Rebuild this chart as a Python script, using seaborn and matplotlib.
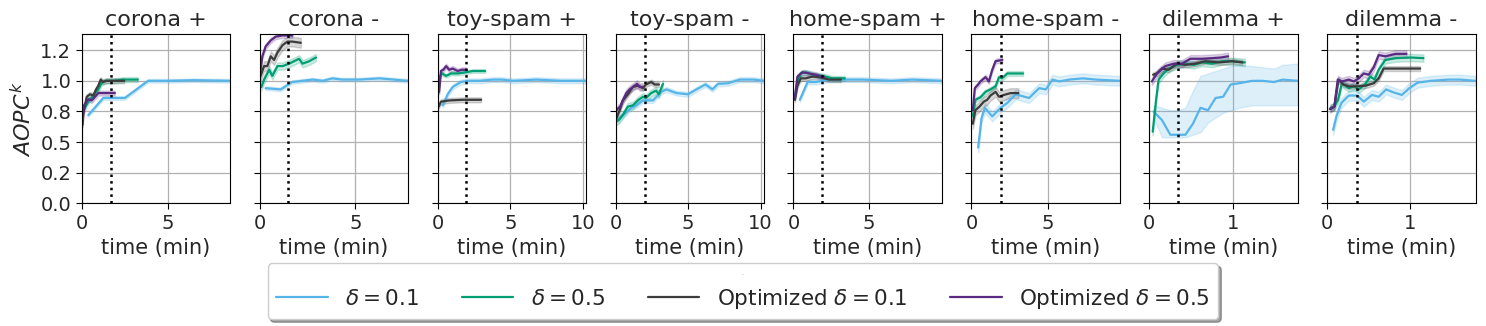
import numpy as np
import pandas as pd
import matplotlib
matplotlib.use('Agg')
import matplotlib.pyplot as plt
from matplotlib.ticker import MaxNLocator, FormatStrFormatter
import seaborn as sns

# panel titles and the dotted reference time of each panel
titles = ['corona +', 'corona -', 'toy-spam +', 'toy-spam -',
          'home-spam +', 'home-spam -', 'dilemma +', 'dilemma -']
vline_x = [1.7, 1.5, 1.98, 2.0, 1.87, 1.93, 0.347, 0.358]

methods = ['$\\delta = 0.1$', '$\\delta = 0.5$',
           'Optimized $\\delta = 0.1$', 'Optimized $\\delta = 0.5$']
colors = ['#56B4E9', '#009E73', '#3C3C3C', '#5A2A82']

# corona +
cp_d01_t = [0.38, 1.25, 2.5, 3.85, 5.0, 6.5, 8.6]
cp_d01_y = [0.72, 0.86, 0.86, 1.0, 1.0, 1.005, 1.0]
cp_d05_t = [0.1, 0.38, 0.67, 0.96, 1.15, 1.35, 1.83, 2.4, 3.25]
cp_d05_y = [0.76, 0.83, 0.88, 0.93, 0.98, 1.0, 1.0, 1.01, 1.01]
cp_o01_t = [0.1, 0.29, 0.48, 0.67, 0.83, 0.96, 1.1, 1.25, 1.44, 2.46]
cp_o01_y = [0.74, 0.87, 0.89, 0.88, 0.93, 0.96, 1.01, 0.99, 1.0, 1.0]
cp_o05_t = [0.05, 0.13, 0.38, 0.58, 0.77, 0.96, 1.92]
cp_o05_y = [0.64, 0.80, 0.85, 0.84, 0.87, 0.90, 0.90]

# corona -
cm_d01_t = [0.31, 1.1, 1.7, 2.24, 2.76, 3.3, 3.8, 4.3, 5.2, 6.25, 7.0, 7.75]
cm_d01_y = [0.94, 0.93, 0.99, 1.0, 1.01, 1.0, 1.02, 1.01, 1.01, 1.02, 1.01, 1.0]
cm_d05_t = [0.09, 0.23, 0.5, 0.66, 0.93, 1.2, 1.54, 2.06, 2.24, 2.59, 2.94]
cm_d05_y = [0.95, 1.01, 1.09, 1.04, 1.12, 1.12, 1.14, 1.18, 1.14, 1.16, 1.19]
cm_o01_t = [0.05, 0.23, 0.4, 0.58, 0.75, 0.93, 1.19, 1.45, 1.71, 2.15]
cm_o01_y = [1.04, 1.12, 1.12, 1.2, 1.17, 1.23, 1.29, 1.32, 1.32, 1.31]
cm_o05_t = [0.02, 0.14, 0.31, 0.58, 0.84, 1.19, 1.71]
cm_o05_y = [1.06, 1.2, 1.28, 1.33, 1.36, 1.37, 1.37]

# toy-spam +
tp_d01_t = [0.35, 0.69, 1.04, 1.6, 2.07, 2.9, 3.8, 4.4, 5.2, 6.8, 8.5, 10.2]
tp_d01_y = [0.80, 0.89, 0.95, 0.99, 1.0, 1.0, 1.01, 1.01, 1.0, 1.01, 1.0, 1.0]
tp_d05_t = [0.07, 0.16, 0.3, 0.58, 0.92, 1.38, 1.96, 2.42, 3.27]
tp_d05_y = [0.91, 1.04, 1.06, 1.04, 1.06, 1.06, 1.07, 1.08, 1.08]
tp_o01_t = [0.07, 0.23, 0.8, 1.73, 2.99]
tp_o01_y = [0.79, 0.83, 0.84, 0.845, 0.845]
tp_o05_t = [0.1, 0.23, 0.39, 0.58, 0.8, 1.04, 1.38, 1.66, 1.96]
tp_o05_y = [0.91, 1.08, 1.09, 1.12, 1.09, 1.10, 1.08, 1.09, 1.09]

# toy-spam -
tm_d01_t = [0.16, 0.39, 0.74, 1.08, 1.43, 1.89, 2.58, 3.16, 3.5, 4.2, 5.0, 5.58,
            6.2, 6.68, 7.07, 7.76, 8.57, 9.5, 10.23]
tm_d01_y = [0.68, 0.71, 0.74, 0.78, 0.80, 0.84, 0.84, 0.91, 0.93, 0.90, 0.89, 0.93,
            0.97, 0.93, 0.975, 0.98, 1.01, 1.01, 1.0]
tm_d05_t = [0.05, 0.23, 0.5, 0.85, 1.2, 1.54, 1.89, 2.1, 2.46, 2.8, 2.99, 3.27]
tm_d05_y = [0.67, 0.68, 0.72, 0.79, 0.80, 0.84, 0.87, 0.86, 0.90, 0.92, 0.89, 0.975]
tm_o01_t = [0.05, 0.28, 0.5, 0.85, 1.2, 1.54, 1.89, 2.1, 2.46, 2.7, 2.99]
tm_o01_y = [0.69, 0.76, 0.84, 0.89, 0.95, 0.96, 0.94, 0.97, 0.99, 0.97, 0.97]
tm_o05_t = [0.05, 0.32, 0.5, 0.74, 0.97, 1.2, 1.48, 1.66, 1.89]
tm_o05_y = [0.76, 0.79, 0.84, 0.90, 0.93, 0.95, 0.975, 0.95, 0.95]

# home-spam +
hp_d01_t = [0.42, 0.93, 1.48, 2.36, 4.56, 6.5, 7.86, 9.8]
hp_d01_y = [0.845, 0.99, 0.99, 1.01, 1.01, 1.0, 1.01, 1.0]
hp_d05_t = [0.09, 0.26, 0.48, 0.81, 1.26, 1.92, 2.58, 3.39]
hp_d05_y = [0.87, 0.99, 1.06, 1.07, 1.05, 1.04, 1.02, 1.02]
hp_o01_t = [0.09, 0.26, 0.48, 0.81, 1.26, 1.7, 2.36, 3.13]
hp_o01_y = [0.845, 0.96, 1.02, 1.02, 1.035, 1.03, 1.01, 1.01]
hp_o05_t = [0.09, 0.26, 0.59, 1.04, 1.48, 1.81, 2.03]
hp_o05_y = [0.86, 1.035, 1.07, 1.06, 1.05, 1.035, 1.03]

# home-spam -
hm_d01_t = [0.44, 0.66, 0.88, 1.36, 1.91, 2.35, 2.89, 3.77, 4.43, 4.87, 5.3, 5.75,
            6.4, 7.28, 8.16, 9.7]
hm_d01_y = [0.455, 0.695, 0.78, 0.71, 0.78, 0.82, 0.89, 0.86, 0.94, 0.93, 1.01, 0.995,
            1.01, 1.02, 1.01, 1.0]
hm_d05_t = [0.09, 0.26, 0.59, 0.92, 1.25, 1.58, 1.8, 2.0, 2.35, 2.9, 3.38]
hm_d05_y = [0.71, 0.845, 0.865, 0.91, 0.93, 0.955, 1.03, 1.02, 1.06, 1.06, 1.06]
hm_o01_t = [0.09, 0.26, 0.53, 0.81, 1.03, 1.25, 1.58, 1.8, 2.13, 2.57, 3.07]
hm_o01_y = [0.65, 0.76, 0.79, 0.83, 0.845, 0.88, 0.91, 0.87, 0.885, 0.90, 0.90]
hm_o05_t = [0.09, 0.22, 0.44, 0.59, 0.92, 1.14, 1.36, 1.58, 2.02]
hm_o05_y = [0.76, 0.94, 0.97, 0.995, 1.03, 0.995, 1.09, 1.16, 1.17]

# dilemma +
dp_d01_t = [0.05, 0.15, 0.25, 0.34, 0.43, 0.52, 0.61, 0.70, 0.79, 0.88, 0.97,
            1.07, 1.23, 1.35, 1.49, 1.59, 1.77]
dp_d01_y = [0.75, 0.68, 0.56, 0.56, 0.56, 0.65, 0.78, 0.76, 0.86, 0.87, 0.97,
            0.98, 1.0, 1.0, 0.99, 1.01, 1.0]
dp_d01_lo = [0.70, 0.54, 0.54, 0.54, 0.54, 0.56, 0.58, 0.66, 0.70, 0.74, 0.76,
             0.78, 0.80, 0.80, 0.80, 0.80, 0.80]
dp_d01_hi = [0.80, 0.78, 0.76, 0.76, 0.78, 0.92, 1.04, 1.06, 1.08, 1.10, 1.12,
             1.13, 1.12, 1.11, 1.10, 1.13, 1.14]
dp_d05_t = [0.04, 0.08, 0.11, 0.17, 0.23, 0.33, 0.43, 0.53, 0.63, 0.75, 0.87, 0.99, 1.14]
dp_d05_y = [0.585, 0.845, 1.01, 1.06, 1.10, 1.13, 1.14, 1.13, 1.15, 1.14, 1.16, 1.16, 1.15]
dp_o01_t = [0.044, 0.09, 0.15, 0.23, 0.33, 0.43, 0.55, 0.67, 0.83, 0.99, 1.11]
dp_o01_y = [1.05, 1.06, 1.10, 1.09, 1.14, 1.13, 1.14, 1.16, 1.15, 1.16, 1.15]
dp_o05_t = [0.03, 0.09, 0.19, 0.29, 0.39, 0.49, 0.63, 0.75, 0.85, 0.94]
dp_o05_y = [0.995, 1.06, 1.12, 1.14, 1.14, 1.18, 1.18, 1.185, 1.19, 1.20]

# dilemma -
dm_d01_t = [0.07, 0.11, 0.17, 0.26, 0.36, 0.44, 0.54, 0.62, 0.71, 0.80, 0.90, 0.99,
            1.09, 1.25, 1.46, 1.6, 1.79]
dm_d01_y = [0.60, 0.71, 0.82, 0.88, 0.88, 0.83, 0.885, 0.87, 0.93, 0.905, 0.885, 0.94,
            0.985, 1.0, 1.01, 1.01, 1.0]
dm_d05_t = [0.04, 0.085, 0.13, 0.175, 0.26, 0.32, 0.38, 0.46, 0.52, 0.57, 0.62, 0.70,
            0.825, 1.01, 1.16]
dm_d05_y = [0.78, 0.79, 0.845, 0.98, 0.94, 0.955, 0.93, 0.975, 1.035, 1.01, 1.09, 1.17,
            1.185, 1.19, 1.185]
dm_o01_t = [0.04, 0.085, 0.134, 0.195, 0.26, 0.36, 0.46, 0.56, 0.62, 0.68, 0.87, 1.12]
dm_o01_y = [0.77, 0.79, 1.01, 0.97, 0.955, 0.955, 0.96, 0.98, 1.02, 1.10, 1.10, 1.10]
dm_o05_t = [0.03, 0.085, 0.126, 0.175, 0.26, 0.32, 0.38, 0.44, 0.5, 0.56, 0.62, 0.70,
            0.825, 0.955]
dm_o05_y = [0.77, 0.79, 1.01, 0.995, 1.01, 0.995, 1.02, 1.06, 1.05, 1.11, 1.21, 1.20,
            1.22, 1.22]

# half width of the shaded band for each panel, per method
band_w = [
    [0.015, 0.02, 0.02, 0.02],
    [0.015, 0.03, 0.04, 0.02],
    [0.02, 0.015, 0.02, 0.02],
    [0.02, 0.03, 0.02, 0.03],
    [0.02, 0.02, 0.02, 0.02],
    [0.04, 0.02, 0.04, 0.02],
    [0.0, 0.03, 0.02, 0.03],
    [0.04, 0.03, 0.02, 0.03],
]

series = [
    [(cp_d01_t, cp_d01_y), (cp_d05_t, cp_d05_y), (cp_o01_t, cp_o01_y), (cp_o05_t, cp_o05_y)],
    [(cm_d01_t, cm_d01_y), (cm_d05_t, cm_d05_y), (cm_o01_t, cm_o01_y), (cm_o05_t, cm_o05_y)],
    [(tp_d01_t, tp_d01_y), (tp_d05_t, tp_d05_y), (tp_o01_t, tp_o01_y), (tp_o05_t, tp_o05_y)],
    [(tm_d01_t, tm_d01_y), (tm_d05_t, tm_d05_y), (tm_o01_t, tm_o01_y), (tm_o05_t, tm_o05_y)],
    [(hp_d01_t, hp_d01_y), (hp_d05_t, hp_d05_y), (hp_o01_t, hp_o01_y), (hp_o05_t, hp_o05_y)],
    [(hm_d01_t, hm_d01_y), (hm_d05_t, hm_d05_y), (hm_o01_t, hm_o01_y), (hm_o05_t, hm_o05_y)],
    [(dp_d01_t, dp_d01_y), (dp_d05_t, dp_d05_y), (dp_o01_t, dp_o01_y), (dp_o05_t, dp_o05_y)],
    [(dm_d01_t, dm_d01_y), (dm_d05_t, dm_d05_y), (dm_o01_t, dm_o01_y), (dm_o05_t, dm_o05_y)],
]


def panel_frame(p):
    # three rows per time step (low, mid, high) -> median line with min/max band
    rows = []
    for m, (t, y) in enumerate(series[p]):
        if p == 6 and m == 0:
            lo, hi = dp_d01_lo, dp_d01_hi
        else:
            lo = [v - band_w[p][m] for v in y]
            hi = [v + band_w[p][m] for v in y]
        for ti, yi, li, hi_ in zip(t, y, lo, hi):
            for v in (li, yi, hi_):
                rows.append((ti, v, methods[m]))
    return pd.DataFrame(rows, columns=['time', 'aopc', 'method'])


sns.set_style('ticks')
plt.rcParams['font.family'] = ['DejaVu Sans']

fig, axes = plt.subplots(1, 8, figsize=(14.86, 3.26), dpi=100, sharey=True)
fig.subplots_adjust(left=0.055, right=0.993, top=0.895, bottom=0.376, wspace=0.2)

handles, labels = None, None
for i, ax in enumerate(axes):
    df = panel_frame(i)
    sns.lineplot(data=df, x='time', y='aopc', hue='method', hue_order=methods,
                 palette=colors, estimator='median', errorbar=('pi', 100),
                 linewidth=1.6, ax=ax, legend=(i == 0))
    if i == 0:
        handles, labels = ax.get_legend_handles_labels()
        ax.get_legend().remove()
    ax.axvline(vline_x[i], color='black', linestyle=':', linewidth=1.8)
    ax.set_xlim(0, df['time'].max())
    ax.set_ylim(0, 1.38)
    ax.set_yticks([0, 0.25, 0.5, 0.75, 1.0, 1.25])
    ax.yaxis.set_major_formatter(FormatStrFormatter('%.1f'))
    ax.xaxis.set_major_locator(MaxNLocator(nbins=3, steps=[1, 5, 10]))
    ax.grid(True, color='#b0b0b0', linewidth=0.9)
    for s in ax.spines.values():
        s.set_visible(True)
        s.set_color('black')
    ax.tick_params(labelsize=14, length=4, color='black')
    ax.set_title(titles[i], fontsize=16)
    ax.set_xlabel('time (min)', fontsize=15)
    ax.set_ylabel('$AOPC^k$' if i == 0 else '', fontsize=16)

for h in handles:
    h.set_linewidth(1.6)
fig.legend(handles, labels, loc='upper center', bbox_to_anchor=(0.5, 0.225),
           ncol=4, fontsize=15.5, shadow=True, fancybox=True, title='-',
           title_fontsize=3, handlelength=2.4, columnspacing=2.0,
           edgecolor='#cccccc', framealpha=1)

fig.savefig('out.png', dpi=100)
